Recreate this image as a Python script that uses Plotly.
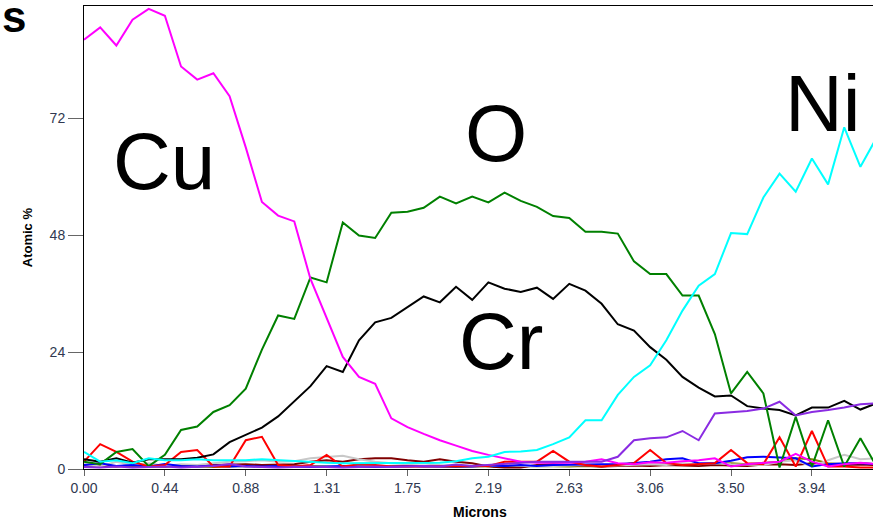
import plotly.graph_objects as go

# x positions: 51 points, 0 .. 4.375 microns
step = 4.375 / 50
microns = [round(i * step, 4) for i in range(51)]

cu = [88.1, 90.6, 86.9, 92.2, 94.4, 93.0, 82.6, 79.9, 81.2, 76.5,
      66.0, 54.8, 52.0, 50.8, 39.0, 31.1, 23.0, 18.9, 17.5, 10.4,
      8.6, 7.2, 5.9, 4.8, 3.7, 2.9, 2.2, 1.5, 1.3, 1.3,
      1.3, 1.5, 2.0, 1.2, 1.0, 1.4, 1.3, 1.6, 1.8, 2.2,
      0.5, 1.0, 1.2, 1.5, 3.1, 1.5, 0.5, 1.0, 1.3, 1.0, 1.0]

o = [1.5, 1.0, 3.5, 4.1, 0.6, 2.9, 8.0, 8.7, 11.7, 13.1,
     16.5, 24.5, 31.5, 30.8, 39.3, 38.3, 50.6, 47.9, 47.4, 52.6,
     52.8, 53.6, 55.9, 54.5, 55.9, 54.7, 56.7, 55.0, 53.8, 51.9,
     51.5, 48.7, 48.7, 48.3, 42.6, 40.0, 40.0, 35.6, 35.6, 27.7,
     15.5, 19.9, 15.5, 0.3, 10.7, 0.5, 10.0, 0.5, 6.3, 0.5, 1.0]

cr = [2.0, 1.5, 2.2, 1.3, 2.0, 2.0, 2.0, 2.3, 3.0, 5.5,
      7.0, 8.5, 10.8, 13.8, 17.0, 21.1, 19.9, 26.4, 30.1, 31.0,
      33.2, 35.4, 34.2, 37.4, 34.7, 38.3, 37.0, 36.3, 37.2, 34.9,
      38.0, 36.6, 33.9, 29.7, 28.4, 25.0, 22.4, 18.9, 16.7, 14.9,
      15.1, 12.9, 12.4, 12.1, 11.0, 12.6, 12.6, 14.0, 12.2, 13.5, 13.5]

ni = [3.5, 1.5, 1.8, 1.2, 2.2, 1.8, 1.8, 2.0, 1.8, 1.8,
      1.8, 2.0, 1.8, 1.6, 1.5, 1.3, 1.2, 1.2, 1.2, 1.2,
      1.2, 1.3, 1.3, 1.6, 2.2, 2.5, 3.5, 3.6, 3.9, 5.1,
      6.5, 10.0, 10.0, 15.2, 18.9, 21.3, 26.4, 32.5, 37.6, 40.0,
      48.4, 48.2, 55.7, 60.6, 56.9, 63.7, 58.4, 70.1, 62.0, 68.0, 66.0]

purple = [0.4, 0.3, 0.5, 0.3, 0.4, 0.5, 0.3, 0.4, 0.6, 1.0,
          0.5, 0.4, 0.3, 0.4, 0.5, 0.4, 0.3, 0.4, 0.5, 0.4,
          0.5, 0.6, 0.5, 0.9, 0.6, 0.8, 1.0, 1.2, 1.5, 1.5,
          1.5, 1.5, 1.5, 2.5, 5.9, 6.3, 6.5, 7.8, 5.9, 11.4,
          11.7, 11.9, 12.4, 13.8, 11.0, 11.7, 12.1, 12.6, 13.3, 13.5, 13.5]

red = [1.5, 5.1, 3.5, 1.5, 0.5, 0.8, 3.5, 3.9, 0.5, 0.5,
       5.9, 6.6, 0.8, 0.5, 0.8, 2.9, 0.5, 1.0, 0.8, 0.5,
       0.5, 0.5, 0.6, 0.5, 0.5, 0.6, 1.5, 1.5, 1.5, 3.7,
       1.5, 0.8, 0.5, 0.8, 1.2, 3.9, 1.2, 0.8, 1.0, 1.2,
       3.9, 1.2, 1.0, 6.5, 0.5, 7.8, 0.5, 0.5, 0.3, 0.3, 0.3]

blue = [0.8, 1.2, 0.6, 0.8, 0.5, 1.0, 0.6, 0.5, 0.7, 0.5,
        0.6, 0.5, 0.6, 0.5, 0.4, 0.5, 0.6, 0.5, 0.4, 0.5,
        0.6, 0.5, 0.5, 0.6, 0.5, 0.7, 0.6, 0.8, 0.6, 0.8,
        0.9, 1.0, 1.0, 1.0, 1.2, 1.5, 2.0, 2.2, 1.2, 1.2,
        1.7, 2.4, 2.5, 2.4, 2.2, 0.5, 1.0, 1.2, 1.2, 1.0, 1.0]

maroon = [0.8, 0.6, 0.5, 0.8, 0.6, 0.5, 0.7, 0.6, 0.8, 0.9,
          1.0, 0.8, 0.9, 1.0, 1.5, 1.8, 1.5, 2.0, 2.2, 2.2,
          1.8, 1.5, 2.0, 1.5, 1.2, 0.5, 0.3, 0.3, 0.8, 1.0,
          0.8, 0.6, 0.5, 0.6, 0.7, 0.6, 0.8, 0.7, 0.6, 0.8,
          0.7, 0.6, 0.9, 1.0, 0.8, 1.2, 0.7, 0.8, 0.9, 0.8, 0.8]

silver = [1.0, 0.5, 1.5, 0.8, 1.2, 0.6, 1.0, 0.8, 1.2, 1.5,
          1.6, 1.8, 1.5, 1.6, 2.2, 2.5, 2.7, 2.0, 1.5, 1.2,
          1.0, 1.2, 0.8, 0.7, 0.6, 0.5, 0.8, 0.6, 0.5, 0.6,
          0.7, 0.8, 0.6, 0.7, 0.8, 1.0, 0.8, 1.2, 1.0, 1.2,
          1.0, 0.9, 0.8, 1.5, 1.8, 0.5, 1.8, 2.9, 2.0, 2.2, 2.0]

olive = [0.5, 0.4, 0.6, 0.5, 0.4, 0.5, 0.6, 0.5, 0.4, 0.5,
         0.6, 0.5, 0.4, 0.5, 0.6, 0.5, 0.4, 0.5, 0.5, 0.4,
         0.5, 0.6, 0.5, 0.4, 0.5, 0.5, 0.4, 0.5, 0.6, 0.5,
         0.5, 0.6, 0.5, 0.8, 0.9, 0.8, 1.0, 0.8, 0.9, 1.0,
         1.2, 1.0, 1.2, 1.5, 2.2, 2.0, 1.2, 1.0, 1.2, 1.0, 1.0]

tick_vals = [k * 0.4375 for k in range(10)]
tick_text = ["0.00", "0.44", "0.88", "1.31", "1.75", "2.19", "2.63", "3.06", "3.50", "3.94"]
y_ticks = [0, 24, 48, 72]

labels = [("Cu", 0.431, 63.0), ("O", 2.226, 68.8), ("Cr", 2.255, 26.2), ("Ni", 3.997, 75.0)]

fig = go.Figure()

minor = [(olive, "#808000"), (maroon, "#800000"), (silver, "#c8c8c8"),
         (blue, "#0000ff"), (red, "#ff0000")]
for vals, col in minor:
    fig.add_trace(go.Scatter(x=microns, y=vals, mode="lines",
                             line=dict(color=col, width=2), showlegend=False))

main = [(cr, "#000000"), (o, "#008000"), (cu, "#ff00ff"), (purple, "#8a2be2"), (ni, "#00ffff")]
for vals, col in main:
    fig.add_trace(go.Scatter(x=microns, y=vals, mode="lines",
                             line=dict(color=col, width=2), showlegend=False))

for txt, xv, yv in labels:
    fig.add_annotation(x=xv, y=yv, xref="x", yref="y", text=txt, showarrow=False,
                       font=dict(family="Arial, Liberation Sans", size=80, color="black"),
                       xanchor="center", yanchor="middle")

# axis titles and cut-off header letter
fig.add_annotation(x=-0.072, y=0.501, xref="paper", yref="paper", text="<b>Atomic %</b>",
                   textangle=-90, showarrow=False, xanchor="center", yanchor="middle",
                   font=dict(family="Arial, Liberation Sans", size=13, color="black"))
fig.add_annotation(x=0.5024, y=-0.093, xref="paper", yref="paper", text="<b>Microns</b>",
                   showarrow=False, xanchor="center", yanchor="middle",
                   font=dict(family="Arial, Liberation Sans", size=14, color="black"))
fig.add_annotation(x=-0.107, y=0.978, xref="paper", yref="paper", text="<b>s</b>",
                   showarrow=False, xanchor="left", yanchor="middle",
                   font=dict(family="Arial, Liberation Sans", size=44, color="black"))

tickfont = dict(family="Arial, Liberation Sans", size=14, color="#303850")
fig.update_layout(
    width=873, height=522,
    margin=dict(l=84, r=0, t=6, b=53),
    paper_bgcolor="white", plot_bgcolor="white",
    xaxis=dict(range=[0, 4.268], tickvals=tick_vals, ticktext=tick_text,
               ticks="outside", ticklen=6, tickcolor="#666666", tickwidth=1,
               showgrid=False, zeroline=False, showline=True, mirror=True,
               linecolor="black", linewidth=1, tickfont=tickfont),
    yaxis=dict(range=[0, 95], tickvals=y_ticks, ticktext=[str(v) for v in y_ticks],
               ticks="outside", ticklen=15, tickcolor="#666666", tickwidth=1,
               showgrid=False, zeroline=False, showline=True,
               linecolor="black", linewidth=1, tickfont=tickfont),
)

fig.write_html("out.html")
